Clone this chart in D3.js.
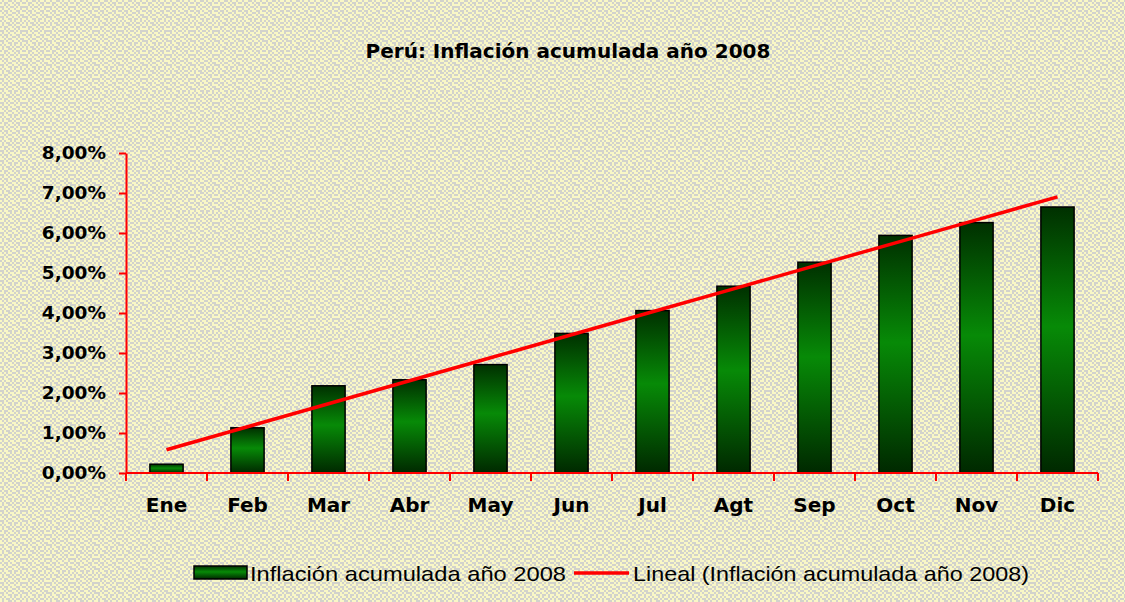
<!DOCTYPE html>
<html>
<head>
<meta charset="utf-8">
<script src="https://cdn.jsdelivr.net/npm/d3@7"></script>
<style>
  html, body { margin: 0; padding: 0; background: #fff; }
  svg { display: block; }
</style>
</head>
<body>
<svg id="chart" width="1125" height="602"></svg>
<script>
// data
const months = ["Ene", "Feb", "Mar", "Abr", "May", "Jun", "Jul", "Agt", "Sep", "Oct", "Nov", "Dic"];
const inflacion = [0.22, 1.13, 2.18, 2.33, 2.71, 3.49, 4.06, 4.67, 5.27, 5.94, 6.26, 6.65];
const yTicks = [0, 1, 2, 3, 4, 5, 6, 7, 8];

const title = "Perú: Inflación acumulada año 2008";
const serieName = "Inflación acumulada año 2008";
const trendName = "Lineal (Inflación acumulada año 2008)";

const width = 1125, height = 602;
const margin = { top: 153, right: 27, bottom: 129, left: 126 };

const svg = d3.select("#chart");
const defs = svg.append("defs");

// textured background (cream / gray dither)
const bits = [
  "101100101101",
  "010011010010",
  "110101101011",
  "001010010100",
  "101101101101",
  "010010110010",
  "101011001011",
  "110100110100",
  "001011011010",
  "101100100101",
  "010110101101",
  "101001010010"
];
const pat = defs.append("pattern")
  .attr("id", "bg")
  .attr("patternUnits", "userSpaceOnUse")
  .attr("width", 24).attr("height", 24);
pat.append("rect").attr("width", 24).attr("height", 24).attr("fill", "#f9f7c6");
bits.forEach((row, j) => {
  row.split("").forEach((b, i) => {
    if (b === "0") {
      pat.append("rect")
        .attr("x", i * 2).attr("y", j * 2)
        .attr("width", 2).attr("height", 2)
        .attr("fill", "#d2d2cc");
    }
  });
});
svg.append("rect").attr("width", width).attr("height", height).attr("fill", "url(#bg)");

// bar gradient: dark at the ends, green in the middle
const grad = defs.append("linearGradient")
  .attr("id", "barGrad")
  .attr("x1", 0).attr("y1", 0).attr("x2", 0).attr("y2", 1);
grad.append("stop").attr("offset", "0%").attr("stop-color", "#003000");
grad.append("stop").attr("offset", "45%").attr("stop-color", "#078a07");
grad.append("stop").attr("offset", "100%").attr("stop-color", "#002800");

const x = d3.scaleBand()
  .domain(months)
  .range([margin.left, width - margin.right])
  .paddingInner(0.59)
  .paddingOuter(0.295);

const y = d3.scaleLinear()
  .domain([0, 8])
  .range([height - margin.bottom, margin.top]);

const es = d3.formatLocale({ decimal: ",", thousands: ".", grouping: [3], currency: ["", ""] });
const fmt = es.format(".2f");

// title
svg.append("text")
  .attr("x", 568)
  .attr("y", 58)
  .attr("text-anchor", "middle")
  .style("font-family", "'DejaVu Sans', sans-serif")
  .style("font-weight", "bold")
  .style("font-size", "20px")
  .attr("fill", "#000")
  .text(title);

// bars
svg.append("g").selectAll("rect")
  .data(inflacion)
  .enter().append("rect")
  .attr("x", (d, i) => x(months[i]))
  .attr("y", d => y(d))
  .attr("width", x.bandwidth())
  .attr("height", d => y(0) - y(d))
  .attr("fill", "url(#barGrad)")
  .attr("stroke", "#000")
  .attr("stroke-width", 1.5);

// linear trend (least squares over 1..12)
const n = inflacion.length;
const xs = d3.range(1, n + 1);
const mx = d3.mean(xs), my = d3.mean(inflacion);
const slope = d3.sum(xs, (v, i) => (v - mx) * (inflacion[i] - my)) / d3.sum(xs, v => (v - mx) * (v - mx));
const icpt = my - slope * mx;
const trend = xs.map(v => icpt + slope * v);

svg.append("path")
  .datum(trend)
  .attr("d", d3.line()
    .x((d, i) => x(months[i]) + x.bandwidth() / 2)
    .y(d => y(d)))
  .attr("fill", "none")
  .attr("stroke", "#ff0000")
  .attr("stroke-width", 3.5);

// y axis
const yAxis = svg.append("g")
  .attr("transform", `translate(${margin.left},0)`)
  .call(d3.axisLeft(y).tickValues(yTicks).tickSize(7).tickSizeOuter(0)
    .tickFormat(d => fmt(d) + "%"));
yAxis.select(".domain").attr("stroke", "#ff0000").attr("stroke-width", 2);
yAxis.selectAll(".tick line").attr("stroke", "#ff0000").attr("stroke-width", 2);
yAxis.selectAll(".tick text")
  .attr("x", -20)
  .style("font-family", "'DejaVu Sans', sans-serif")
  .style("font-weight", "bold")
  .style("font-size", "18.5px")
  .attr("fill", "#000");

// x axis: line + ticks on category boundaries
const xAxis = svg.append("g")
  .attr("transform", `translate(0,${y(0)})`)
  .call(d3.axisBottom(x).tickSize(0).tickPadding(25));
xAxis.select(".domain").remove();
xAxis.selectAll(".tick text")
  .style("font-family", "'DejaVu Sans', sans-serif")
  .style("font-weight", "bold")
  .style("font-size", "20px")
  .attr("fill", "#000");
xAxis.append("line")
  .attr("x1", x.range()[0]).attr("x2", x.range()[1])
  .attr("stroke", "#ff0000").attr("stroke-width", 2);
const bounds = months.map(m => x(m) - x.step() * x.paddingOuter()).concat([x.range()[1]]);
xAxis.selectAll(".btick")
  .data(bounds)
  .enter().append("line")
  .attr("class", "btick")
  .attr("x1", d => d).attr("x2", d => d)
  .attr("y1", 0).attr("y2", 8)
  .attr("stroke", "#ff0000").attr("stroke-width", 2);

// legend
const leg = svg.append("g");
leg.append("rect")
  .attr("x", 194).attr("y", 566)
  .attr("width", 53).attr("height", 13)
  .attr("fill", "url(#barGrad)")
  .attr("stroke", "#000").attr("stroke-width", 1.5);
leg.append("text")
  .attr("x", 250).attr("y", 581)
  .attr("textLength", 316)
  .attr("lengthAdjust", "spacingAndGlyphs")
  .style("font-family", "'Liberation Sans', Arial, sans-serif")
  .style("font-size", "21px")
  .attr("fill", "#000")
  .text(serieName);
leg.append("line")
  .attr("x1", 574).attr("x2", 629)
  .attr("y1", 573).attr("y2", 573)
  .attr("stroke", "#ff0000").attr("stroke-width", 3.5);
leg.append("text")
  .attr("x", 633).attr("y", 581)
  .attr("textLength", 396)
  .attr("lengthAdjust", "spacingAndGlyphs")
  .style("font-family", "'Liberation Sans', Arial, sans-serif")
  .style("font-size", "21px")
  .attr("fill", "#000")
  .text(trendName);
</script>
</body>
</html>
